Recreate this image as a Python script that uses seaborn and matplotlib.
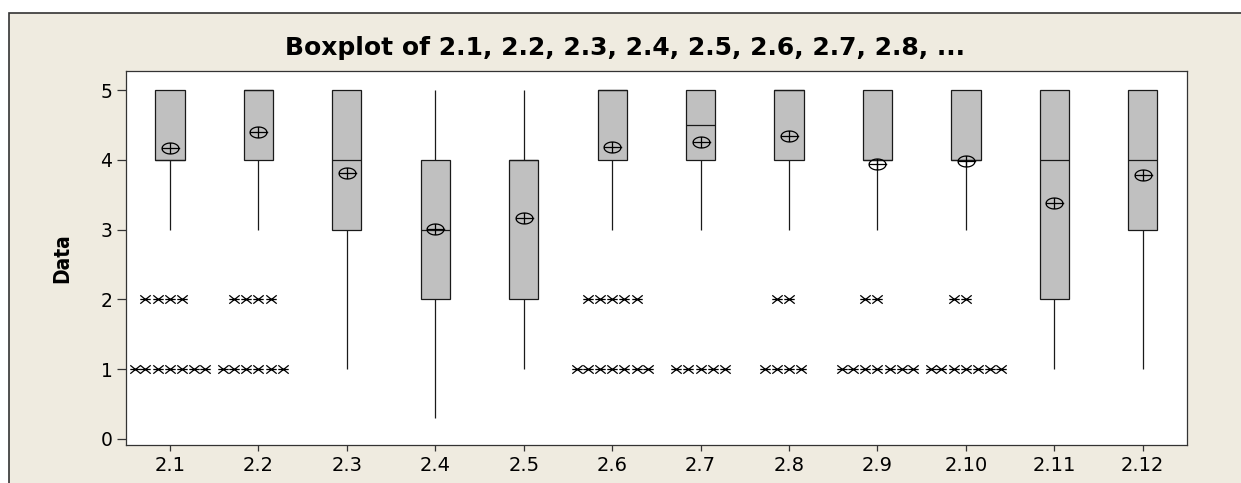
import numpy as np
import pandas as pd
import matplotlib
matplotlib.use('Agg')
import matplotlib.pyplot as plt
from matplotlib.patches import Rectangle
from matplotlib.path import Path
from matplotlib import cbook
import seaborn as sns

# Itens do questionario e contagem de respostas por nivel (1 a 5)
itens = ['2.1', '2.2', '2.3', '2.4', '2.5', '2.6',
         '2.7', '2.8', '2.9', '2.10', '2.11', '2.12']
niveis = [1, 2, 3, 4, 5]

cont_2_1 = [7, 4, 3, 37, 49]
cont_2_2 = [6, 4, 3, 18, 69]
cont_2_3 = [6, 9, 22, 24, 39]
cont_2_4 = [11, 23, 27, 27, 11]
cont_2_5 = [16, 19, 13, 37, 15]
cont_2_6 = [7, 5, 2, 34, 52]
cont_2_7 = [5, 0, 10, 35, 50]
cont_2_8 = [4, 2, 6, 31, 57]
cont_2_9 = [7, 2, 10, 52, 29]
cont_2_10 = [7, 2, 9, 50, 32]
cont_2_11 = [21, 12, 11, 20, 36]
cont_2_12 = [6, 10, 22, 24, 38]

# valor fora da escala registrado no item 2.4
extra_2_4 = [0.3]

contagens = [cont_2_1, cont_2_2, cont_2_3, cont_2_4, cont_2_5, cont_2_6,
             cont_2_7, cont_2_8, cont_2_9, cont_2_10, cont_2_11, cont_2_12]

# Montar tabela longa com todas as respostas
partes = []
for item, cont in zip(itens, contagens):
    valores = np.repeat(niveis, cont).astype(float)
    partes.append(pd.DataFrame({'item': item, 'valor': valores}))
partes.append(pd.DataFrame({'item': '2.4', 'valor': extra_2_4}))
df = pd.concat(partes, ignore_index=True)

# Separar os outliers (regra 1.5 IQR) para desenhar como asteriscos
outliers = []
for item in itens:
    v = df.loc[df['item'] == item, 'valor'].values
    st = cbook.boxplot_stats(v, whis=1.5)[0]
    for f in st['fliers']:
        outliers.append((item, f))
df_out = pd.DataFrame(outliers, columns=['item', 'valor'])

# Simbolos no estilo do Minitab
t = np.linspace(0, 2 * np.pi, 41)
verts_media = list(zip(np.cos(t), 0.65 * np.sin(t))) + [(-1, 0), (1.15, 0), (0, -0.65), (0, 0.65)]
codes_media = [Path.MOVETO] + [Path.LINETO] * 40 + [Path.MOVETO, Path.LINETO] * 2
simbolo_media = Path(verts_media, codes_media)

asterisco = Path([(-1, 0), (1, 0), (-1, -0.8), (1, 0.8), (-1, 0.8), (1, -0.8)],
                 [Path.MOVETO, Path.LINETO] * 3)

sns.set_theme(style='ticks')
plt.rcParams['font.family'] = ['DejaVu Sans']
plt.rcParams['text.color'] = 'black'
plt.rcParams['axes.labelcolor'] = 'black'
plt.rcParams['xtick.labelcolor'] = 'black'
plt.rcParams['ytick.labelcolor'] = 'black'

fig = plt.figure(figsize=(12.41, 4.83), dpi=100, facecolor='white')
fig.patches.append(Rectangle((9 / 1241, -0.05), 1.1, (483 - 13) / 483 + 0.05,
                             transform=fig.transFigure, facecolor='#EFEBE0',
                             edgecolor='#333333', lw=1.2, zorder=-5))
ax = fig.add_axes([0.1013, 0.0787, 0.8552, 0.7749])
ax.set_zorder(2)
ax.set_facecolor('white')

sns.boxplot(data=df, x='item', y='valor', order=itens, width=0.33,
            color='#C0C0C0', saturation=1, linecolor='#1a1a1a', linewidth=0.9,
            whis=1.5, showfliers=False, showcaps=False, showmeans=True,
            meanprops=dict(marker=simbolo_media, markerfacecolor='none',
                           markeredgecolor='black', markersize=14,
                           markeredgewidth=0.9),
            ax=ax)

sns.swarmplot(data=df_out, x='item', y='valor', order=itens, marker=asterisco,
              size=7.5, color='black', edgecolor='black', linewidth=0.9, ax=ax)

ax.set_xlim(-0.5, 11.5)
ax.set_ylim(-0.09, 5.28)
ax.set_yticks(range(6))
ax.tick_params(axis='y', length=6.5, width=0.9, color='#333333', labelsize=13.5, pad=3)
ax.tick_params(axis='x', length=4, width=0.9, color='#333333', labelsize=14, pad=4)
for s in ax.spines.values():
    s.set_visible(True)
    s.set_color('#333333')
    s.set_linewidth(0.9)

ax.set_xlabel('')
ax.set_ylabel('Data', fontsize=15, fontweight='bold', color='black',
              fontstretch='condensed', family=['DejaVu Sans'])
ax.yaxis.set_label_coords(-0.05, 0.5)

fig.text(625 / 1241, 1 - 48 / 483,
         'Boxplot of 2.1, 2.2, 2.3, 2.4, 2.5, 2.6, 2.7, 2.8, ...',
         ha='center', va='center', fontsize=18, fontweight='bold')

fig.savefig('out.png', dpi=100, facecolor=fig.get_facecolor())
